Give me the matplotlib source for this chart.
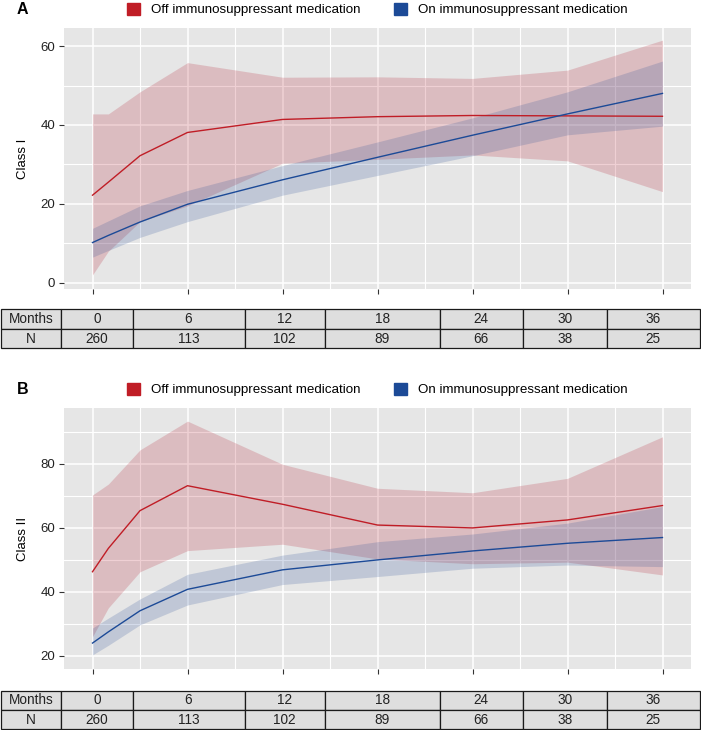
import matplotlib
matplotlib.use('Agg')
import matplotlib.pyplot as plt
from matplotlib.patches import Patch

plt.rcParams['font.family'] = ['Liberation Sans', 'DejaVu Sans']

# months at which the estimates are drawn
months = [0, 1, 3, 6, 12, 18, 24, 30, 36]

# Panel A - Class I
a_off = [22.2, 25.5, 32.2, 38.1, 41.4, 42.1, 42.4, 42.3, 42.2]
a_off_hi = [42.8, 42.8, 48.4, 55.8, 52.1, 52.2, 51.8, 53.9, 61.5]
a_off_lo = [2.0, 8.0, 15.5, 19.5, 30.3, 31.3, 32.4, 30.9, 23.1]
a_on = [10.2, 12.0, 15.4, 19.9, 26.1, 31.8, 37.4, 42.8, 48.0]
a_on_hi = [13.8, 15.7, 19.5, 23.4, 29.7, 35.7, 41.8, 48.4, 56.2]
a_on_lo = [6.5, 8.2, 11.5, 15.5, 22.2, 27.2, 32.2, 37.5, 39.7]

# Panel B - Class II
b_off = [46.3, 53.6, 65.4, 73.2, 67.4, 60.9, 60.0, 62.5, 67.0]
b_off_hi = [70.3, 73.7, 84.4, 93.4, 79.9, 72.4, 71.0, 75.5, 88.5]
b_off_lo = [26.0, 35.0, 46.3, 52.9, 54.9, 50.3, 48.8, 49.3, 45.3]
b_on = [24.0, 27.5, 34.1, 40.8, 46.9, 50.0, 52.8, 55.2, 57.0]
b_on_hi = [28.7, 31.8, 37.8, 45.5, 51.5, 55.7, 58.1, 61.5, 66.7]
b_on_lo = [20.3, 23.3, 29.7, 35.9, 42.3, 44.8, 47.4, 48.4, 47.9]

# table below each panel
table_months = ['Months', '0', '6', '12', '18', '24', '30', '36']
table_n = ['N', '260', '113', '102', '89', '66', '38', '25']

labels = ['Off immunosuppressant medication', 'On immunosuppressant medication']
red = '#C01D26'
blue = '#1C4A97'
bg = '#E6E6E6'

W, H = 701, 730
fig = plt.figure(figsize=(W / 100, H / 100), dpi=100)


def fx(px):
    return px / W


def fy(py):
    return 1 - py / H


def panel(top, bottom, off, off_hi, off_lo, on, on_hi, on_lo, ylim, yticks, yminor, ylabel, letter):
    ax = fig.add_axes([fx(64), fy(bottom), fx(691) - fx(64), fy(top) - fy(bottom)])
    ax.set_facecolor(bg)
    for s in ax.spines.values():
        s.set_visible(False)
    ax.set_xlim(-1.8, 37.8)
    ax.set_ylim(*ylim)
    ax.set_xticks([0, 6, 12, 18, 24, 30, 36])
    ax.set_xticks([3, 9, 15, 21, 27, 33], minor=True)
    ax.set_yticks(yticks)
    ax.set_yticks(yminor, minor=True)
    ax.set_xticklabels([])
    ax.grid(True, which='major', color='white', lw=1.1)
    ax.grid(True, which='minor', color='white', lw=0.8)
    ax.set_axisbelow(True)
    ax.tick_params(axis='both', which='major', direction='out', length=3.5,
                   width=0.8, color='#333333', labelsize=9.5, labelcolor='#222222', pad=3)
    ax.tick_params(axis='both', which='minor', length=0)

    ax.fill_between(months, off_lo, off_hi, color='#B2182B', alpha=0.2, lw=0)
    ax.fill_between(months, on_lo, on_hi, color='#2A4F96', alpha=0.2, lw=0)
    ax.plot(months, off, color=red, lw=1.0)
    ax.plot(months, on, color=blue, lw=1.0)

    ax.set_ylabel(ylabel, fontsize=9.5)
    ax.yaxis.set_label_coords(-0.056, 0.5)

    handles = [Patch(color=red), Patch(color=blue)]
    ax.legend(handles, labels, loc='center', bbox_to_anchor=(0.5, 1.071), ncol=2,
              frameon=False, fontsize=9.6, handlelength=0.95, handleheight=0.95,
              handletextpad=0.85, columnspacing=2.5, borderaxespad=0)
    fig.text(fx(17), fy(top - 18.5), letter, fontsize=11.5, fontweight='bold',
             ha='left', va='center')
    return ax


def table(top, bottom):
    tax = fig.add_axes([fx(1), fy(bottom), fx(699.6) - fx(1), fy(top) - fy(bottom)])
    tax.axis('off')
    edges = [1, 61, 132.5, 244.5, 325, 439.5, 523, 606.6, 699.6]
    widths = [edges[i + 1] - edges[i] for i in range(len(edges) - 1)]
    tb = tax.table(cellText=[table_months, table_n], colWidths=[w / sum(widths) for w in widths],
                   cellLoc='center', bbox=[0, 0, 1, 1])
    tb.auto_set_font_size(False)
    for (r, c), cell in tb.get_celld().items():
        cell.set_facecolor('#DEDEDE')
        cell.set_edgecolor('#1A1A1A')
        cell.set_linewidth(0.9)
        cell.get_text().set_fontsize(9.8)
        cell.get_text().set_color('#222222')


panel(28.3, 288.7, a_off, a_off_hi, a_off_lo, a_on, a_on_hi, a_on_lo,
      (-1.5, 64.5), [0, 20, 40, 60], [10, 30, 50], 'Class I', 'A')
table(309.3, 348.3)

panel(408.3, 669.3, b_off, b_off_hi, b_off_lo, b_on, b_on_hi, b_on_lo,
      (15.8, 97.4), [20, 40, 60, 80], [30, 50, 70, 90], 'Class II', 'B')
table(690.7, 729.3)

fig.savefig('out.png', dpi=100)
